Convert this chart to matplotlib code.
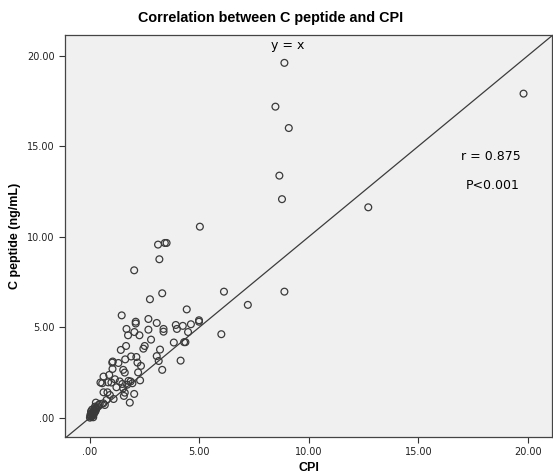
# -*- coding: utf-8 -*-
"""
Scatter of C peptide against CPI with y = x reference line.
"""

import numpy as np
import matplotlib.pyplot as plt
from matplotlib.ticker import FuncFormatter

# CPI values (x) and C peptide values (y, ng/mL)
cpi = [
    8.88, 19.8, 8.47, 9.08, 8.65, 8.77, 12.71, 8.88, 6.12, 7.21, 6.0,
    5.02, 3.11, 3.42, 3.5, 3.17, 2.02, 2.74, 3.3, 4.42, 1.45, 2.09, 2.09,
    2.67, 3.05, 1.67, 3.36, 3.36, 3.92, 3.97, 4.24, 4.61, 4.98, 4.98,
    4.48, 1.74, 2.26, 2.67, 2.03, 2.79, 3.83, 4.3, 4.36, 1.65, 1.41,
    2.44, 2.5, 3.2, 1.88, 2.12, 3.05, 3.14, 1.02, 1.04, 1.3, 1.61, 2.17,
    2.33, 2.2, 3.3, 4.14, 1.03, 1.52, 1.59, 2.29, 0.62, 0.88, 1.14, 1.36,
    1.76, 1.86, 0.48, 0.56, 0.83, 0.98, 1.21, 1.48, 1.7, 1.94, 1.52,
    1.59, 0.62, 0.8, 0.91, 2.02, 1.55, 1.08, 1.82, 0.76, 0.61, 0.68,
    0.45, 0.27, 0.23,
    0.0, 0.05, 0.1, 0.02, 0.08, 0.15, 0.12, 0.2, 0.05, 0.18, 0.25, 0.1,
    0.22, 0.3, 0.03, 0.15, 0.07, 0.28, 0.35, 0.4,
]
cpep = [
    19.6, 17.9, 17.18, 16.0, 13.37, 12.07, 11.62, 6.96, 6.96, 6.23, 4.61,
    10.55, 9.56, 9.65, 9.65, 8.75, 8.14, 6.54, 6.87, 5.98, 5.65, 5.3, 5.2,
    5.45, 5.23, 4.9, 4.9, 4.75, 5.12, 4.9, 5.07, 5.16, 5.38, 5.3,
    4.73, 4.55, 4.55, 4.86, 4.73, 4.31, 4.15, 4.17, 4.17, 3.96, 3.74,
    3.81, 3.96, 3.76, 3.38, 3.35, 3.4, 3.13, 3.04, 3.1, 3.02, 3.22, 3.04,
    2.86, 2.5, 2.64, 3.15, 2.69, 2.64, 2.49, 2.06, 2.27, 2.36, 2.12, 2.0,
    2.03, 2.0, 1.94, 1.9, 1.95, 1.94, 1.68, 1.86, 1.82, 1.9, 1.62,
    1.38, 1.4, 1.4, 1.25, 1.31, 1.2, 1.03, 0.83, 0.98, 0.79, 0.7,
    0.76, 0.83, 0.61,
    0.0, 0.05, 0.1, 0.15, 0.2, 0.12, 0.3, 0.25, 0.35, 0.4, 0.35, 0.45,
    0.5, 0.55, 0.08, 0.02, 0.25, 0.45, 0.62, 0.7,
]
ticks = [0, 5, 10, 15, 20]
r_text = "r = 0.875"
p_text = "P<0.001"

plt.rcParams["font.family"] = ["Liberation Sans", "DejaVu Sans"]


def fmt(v, pos):
    s = "%.2f" % v
    return s[1:] if s.startswith("0") else s


def main():
    fig = plt.figure(figsize=(5.53, 4.76), dpi=100)
    ax = fig.add_axes([0.1175, 0.0819, 0.8807, 0.8446])
    ax.set_facecolor("#F0F0F0")
    lim = (-1.14, 21.1)
    ax.set_xlim(lim)
    ax.set_ylim(-1.07, 21.14)
    # y = x reference line
    ax.plot(lim, lim, color="#3C3C3C", linewidth=0.9, zorder=2)
    ax.scatter(
        cpi,
        cpep,
        s=24,
        facecolors="none",
        edgecolors="#3A3A3A",
        linewidths=0.9,
        zorder=3,
    )
    ax.set_xticks(ticks)
    ax.set_yticks(ticks)
    ax.xaxis.set_major_formatter(FuncFormatter(fmt))
    ax.yaxis.set_major_formatter(FuncFormatter(fmt))
    ax.tick_params(
        labelsize=7, length=4, width=0.8, color="#333333", labelcolor="#222222"
    )
    for lab in ax.get_xticklabels() + ax.get_yticklabels():
        lab.set_family("DejaVu Sans")
    for sp in ax.spines.values():
        sp.set_color("#444444")
        sp.set_linewidth(0.9)
    note = dict(ha="center", va="center", fontsize=9, family="DejaVu Sans")
    ax.text(9.05, 20.55, "y = x", **note)
    ax.text(18.3, 14.4, r_text, **note)
    ax.text(18.4, 12.8, p_text, **note)
    ax.set_xlabel("CPI", fontsize=9, fontweight="bold", labelpad=3)
    ax.set_ylabel("C peptide (ng/mL)", fontsize=9, fontweight="bold", labelpad=4)
    fig.text(
        0.49,
        0.962,
        "Correlation between C peptide and CPI",
        ha="center",
        va="center",
        fontsize=10.4,
        fontweight="bold",
    )
    fig.savefig("out.png", dpi=100)


if __name__ == "__main__":
    main()
